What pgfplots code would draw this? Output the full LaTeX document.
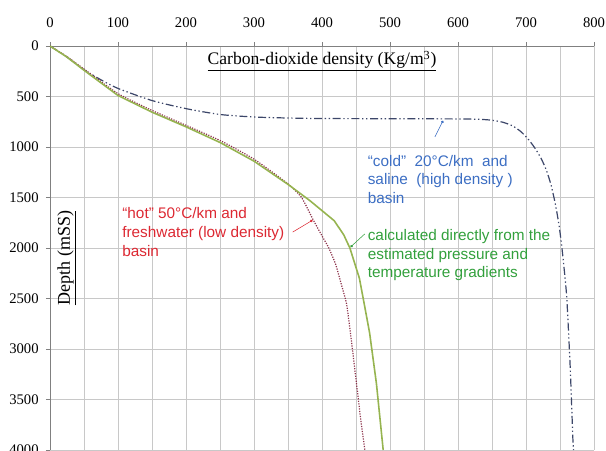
\documentclass[border=0pt]{standalone}
\usepackage{fontspec}
\setmainfont{Liberation Serif}
\newfontfamily\arial{Liberation Sans}
\usepackage{pgfplots}
\pgfplotsset{compat=1.18}
\usetikzlibrary{arrows.meta}

\definecolor{gridgray}{RGB}{200,200,200}
\definecolor{calcgreen}{RGB}{150,180,80}
\definecolor{hotred}{RGB}{140,50,75}
\definecolor{coldblue}{RGB}{60,70,105}
\definecolor{txtred}{RGB}{220,40,50}
\definecolor{txtblue}{RGB}{60,110,195}
\definecolor{txtgreen}{RGB}{50,160,60}

\begin{document}
\begin{tikzpicture}
    \begin{axis}[
        name=ax,
        scale only axis,
        width=408pt, height=303pt,
        xmin=0, xmax=800,
        ymin=0, ymax=4000,
        y dir=reverse,
        axis x line*=top,
        axis y line*=left,
        axis line style={gray},
        xtick distance=100,
        ytick distance=500,
        minor x tick num=1,
        grid=both,
        major grid style={gridgray},
        minor grid style={gridgray},
        tick align=outside,
        major tick length=3pt,
        minor tick length=0pt,
        tick style={gray},
        xticklabel pos=top,
        xticklabel style={yshift=7pt},
        yticklabel style={xshift=-2pt},
        /pgf/number format/1000 sep={},
        /pgf/number format/assume math mode=true,
        tick label style={font=\fontsize{11}{13}\selectfont},
        clip=false,
        ]
        % cold, saline basin
        \addplot[coldblue, line width=0.9pt, smooth, tension=0.4,
            dash pattern=on 6pt off 2pt on 1pt off 2pt on 1pt off 2pt]
        coordinates {
            (0,0)(25,110)(50,235)(75,335)(100,420)(150,540)(200,620)
            (250,678)(300,703)(350,713)(400,718)(500,720)(600,722)
            (632,726)(650,735)(666,755)(680,790)(692,845)(703,920)
            (713,1010)(722,1110)(730,1230)(737,1380)(743,1560)
            (748,1750)(752,1950)(756,2200)(760,2500)(765,3180)(769,3900)
            (770,4000)
        };
        % hot, freshwater basin
        \addplot[hotred, line width=0.9pt, densely dotted, smooth, tension=0.3]
        coordinates {
            (0,0)(25,105)(50,228)(100,472)(150,638)(200,785)(250,935)
            (300,1120)(350,1365)(370,1500)(387,1720)(400,1880)(410,2000)
            (420,2160)(428,2350)(436,2550)(442,2850)(450,3300)(457,3700)
            (463,4000)
        };
        % calculated
        \addplot[calcgreen, line width=1.2pt]
        coordinates {
            (0,0)(25,110)(50,240)(100,490)(150,655)(200,800)(250,955)
            (300,1140)(350,1370)(382,1530)(418,1730)(432,1870)(441,2000)
            (455,2300)(462,2550)(470,2840)(480,3340)(490,4000)
        };

        \node[font=\fontsize{13.2}{15}\selectfont] at (axis cs:400,150)
            {\underline{Carbon-dioxide density (Kg/m\textsuperscript{3})}};
        \node[rotate=90, font=\fontsize{13.5}{15}\selectfont] at (axis cs:25,2100)
            {\underline{Depth (mSS)}};

        \node[anchor=west, align=left, inner xsep=0pt, text=txtred,
            font=\arial\fontsize{11.5}{13.9}\selectfont] at (axis cs:106,1842)
            {“hot” 50°C/km and\\freshwater (low density)\\basin};
        \node[anchor=west, align=left, inner xsep=0pt, text=txtblue,
            font=\arial\fontsize{11.5}{13.9}\selectfont] at (axis cs:467,1320)
            {“cold”\ \ 20°C/km\ \ and\\saline\ \ (high density )\\basin};
        \node[anchor=west, align=left, inner xsep=0pt, text=txtgreen,
            font=\arial\fontsize{11.5}{13.9}\selectfont] at (axis cs:467,2070)
            {calculated directly from the\\estimated pressure and\\temperature gradients};

        \draw[txtred, -{Circle[length=2pt]}] (axis cs:357,1842) -- (axis cs:386,1725);
        \draw[txtblue, -{Circle[length=2pt]}] (axis cs:566,900) -- (axis cs:578,740);
        \draw[txtgreen, -{Circle[length=2pt]}] (axis cs:463,1860) -- (axis cs:442,1990);
    \end{axis}
    \pgfresetboundingbox
    \path[use as bounding box] ([xshift=-37.5pt,yshift=34.5pt]ax.north west)
        rectangle ([xshift=9pt]ax.south east);
\end{tikzpicture}
\end{document}
